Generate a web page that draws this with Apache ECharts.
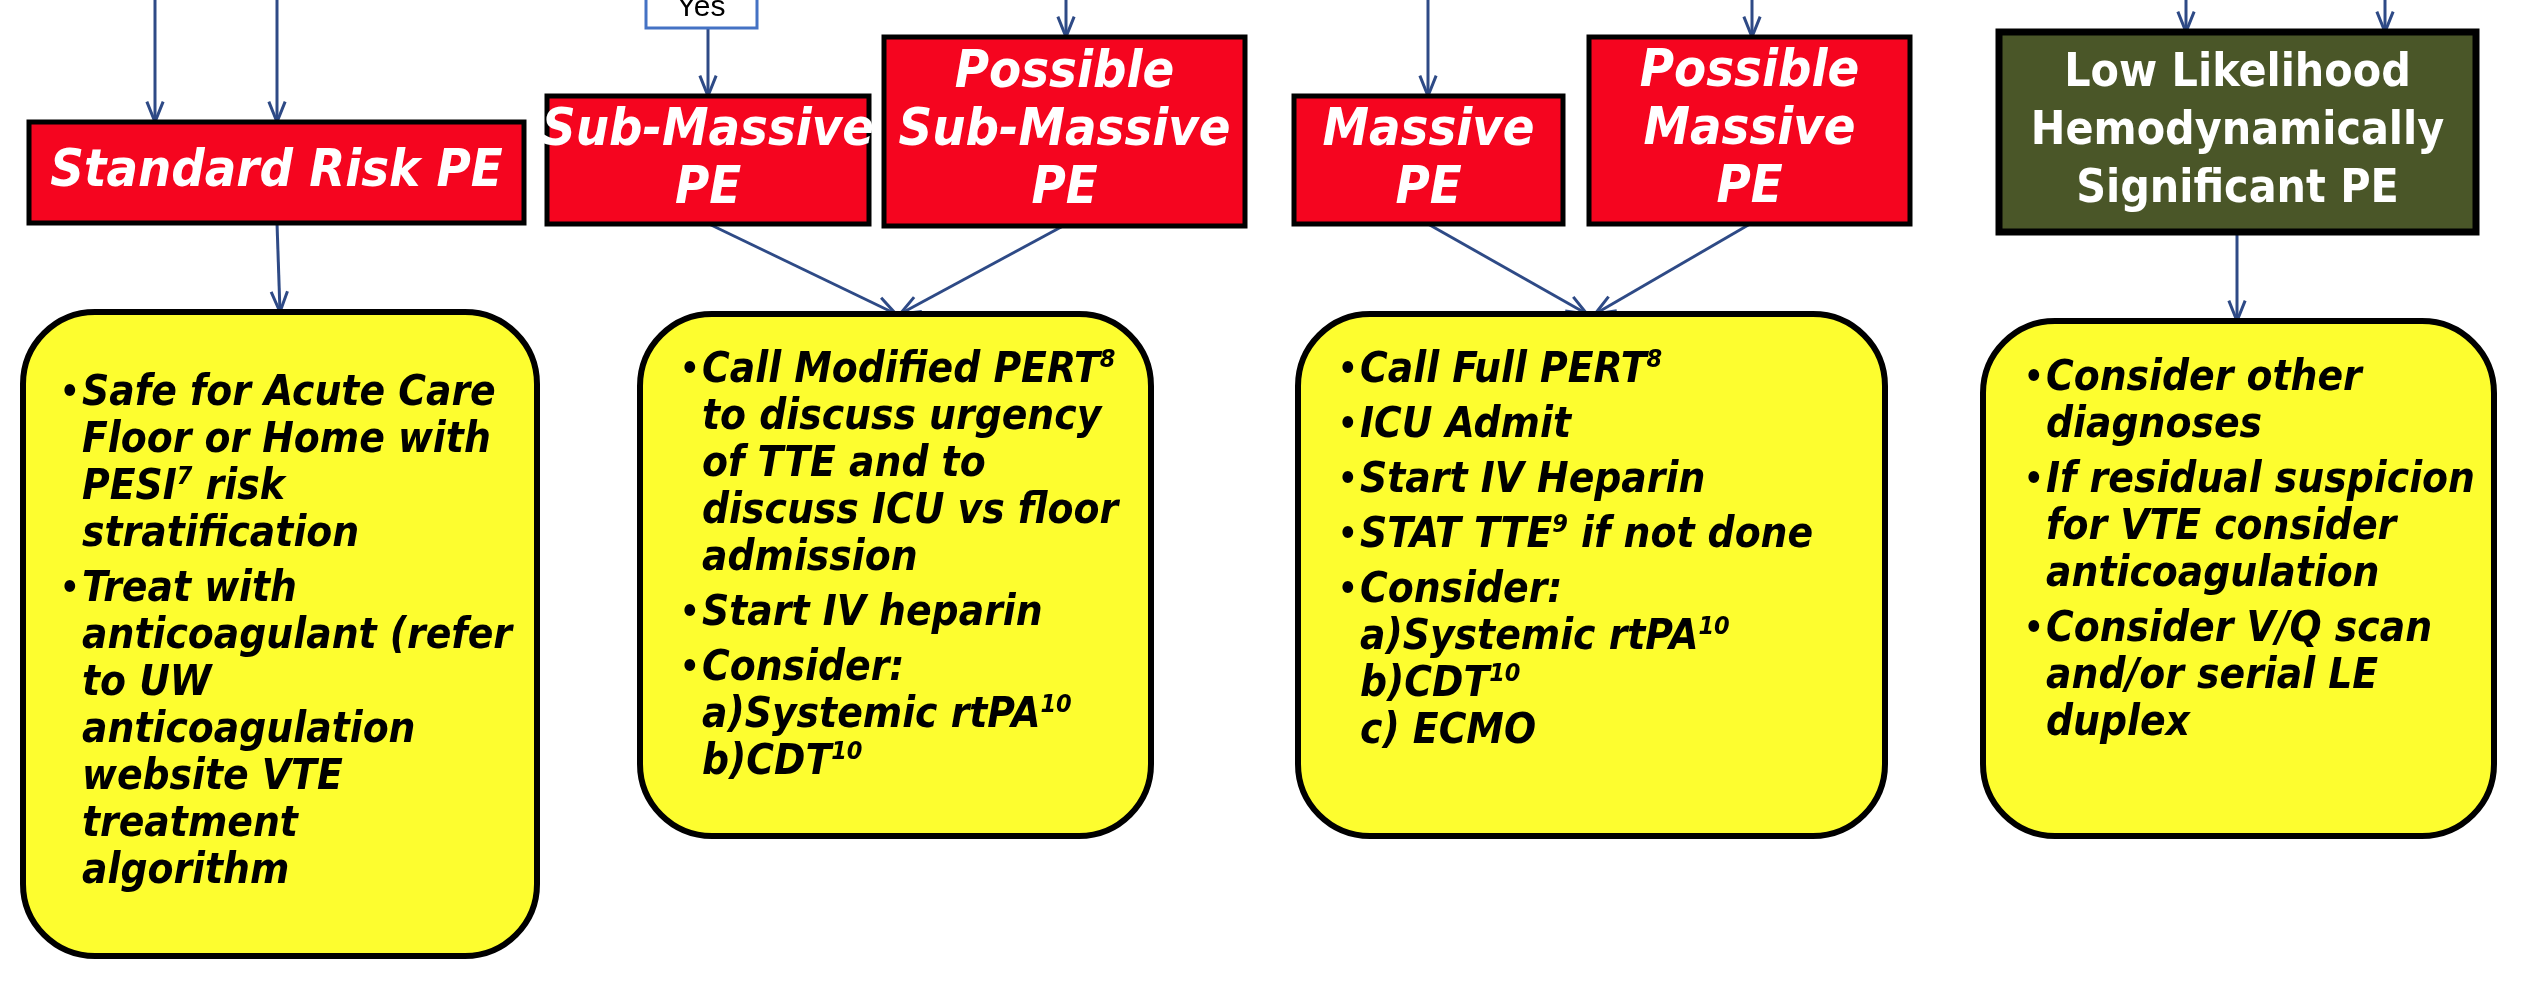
<!DOCTYPE html>
<html><head><meta charset="utf-8">
<script src="https://cdn.jsdelivr.net/npm/echarts@6/dist/echarts.min.js"></script>
<style>html,body{margin:0;background:#fff}#c{width:2540px;height:984px}</style>
</head><body><div id="c"></div>
<script>
// Flowchart fragment: PE risk categories -> management boxes.
const FONT = "'Liberation Sans Narrow','DejaVu Sans Condensed',sans-serif";

// header boxes: label lines, fill
const headers = [
  { lines: ["Standard Risk PE"], fill: "#f5051f", box: [29, 122, 524, 223] },
  { lines: ["Sub-Massive", "PE"], fill: "#f5051f", box: [547, 96, 869, 224] },
  { lines: ["Possible", "Sub-Massive", "PE"], fill: "#f5051f", box: [884, 37, 1245, 226] },
  { lines: ["Massive", "PE"], fill: "#f5051f", box: [1294, 96, 1563, 224] },
  { lines: ["Possible", "Massive", "PE"], fill: "#f5051f", box: [1589, 37, 1910, 224] },
  { lines: ["Low Likelihood", "Hemodynamically", "Significant PE"], fill: "#4a5628", box: [1999, 32, 2476, 232], upright: true },
];

// management boxes: bullets, each a list of lines ({sup} marks superscripts)
const boxes = [
  { box: [23, 312, 537, 956], x: 60, y0: 394, bullets: [
    ["Safe for Acute Care", "Floor or Home with", "PESI{7} risk", "stratification"],
    ["Treat with", "anticoagulant (refer", "to UW", "anticoagulation", "website VTE", "treatment", "algorithm"]] },
  { box: [640, 314, 1151, 836], x: 680, y0: 371, bullets: [
    ["Call Modified PERT{8}", "to discuss urgency", "of TTE and to", "discuss ICU vs floor", "admission"],
    ["Start IV heparin"],
    ["Consider:", "a)Systemic rtPA{10}", "b)CDT{10}"]] },
  { box: [1298, 314, 1885, 836], x: 1338, y0: 371, bullets: [
    ["Call Full PERT{8}"], ["ICU Admit"], ["Start IV Heparin"], ["STAT TTE{9} if not done"],
    ["Consider:", "a)Systemic rtPA{10}", "b)CDT{10}", "c) ECMO"]] },
  { box: [1983, 321, 2494, 836], x: 2024, y0: 379, bullets: [
    ["Consider other", "diagnoses"], ["If residual suspicion", "for VTE consider", "anticoagulation"],
    ["Consider V/Q scan", "and/or serial LE", "duplex"]] },
];

// connectors [x1,y1,x2,y2]
const arrows = [
  [155, 0, 155, 122], [277, 0, 277, 122], [708, 28, 708, 96], [1066, 0, 1066, 37],
  [1428, 0, 1428, 96], [1752, 0, 1752, 37], [2186, 0, 2186, 32], [2385, 0, 2385, 32],
  [277, 223, 280, 312], [709, 224, 896, 314], [1063, 226, 900, 314],
  [1428, 224, 1587, 314], [1750, 224, 1595, 314], [2237, 232, 2237, 321],
];

const LINE_H = 47, GAP = 8;
const g = [];
const NAVY = "#2e4a86";

arrows.forEach(([x1, y1, x2, y2]) => {
  const a = Math.atan2(y2 - y1, x2 - x1), L = 22, w = 0.38;
  g.push({ type: "line", shape: { x1, y1, x2, y2 }, style: { stroke: NAVY, lineWidth: 3 } });
  g.push({ type: "polyline", shape: { points: [
    [x2 - L * Math.cos(a - w), y2 - L * Math.sin(a - w)], [x2, y2],
    [x2 - L * Math.cos(a + w), y2 - L * Math.sin(a + w)]] },
    style: { stroke: NAVY, lineWidth: 3, fill: null } });
});

// "Yes" label box
g.push({ type: "rect", shape: { x: 646, y: -10, width: 111, height: 38 }, style: { fill: "#fff", stroke: "#4472c4", lineWidth: 3 } });
g.push({ type: "text", style: { x: 701, y: 8, text: "Yes", font: "30px 'Liberation Sans'", fill: "#000", align: "center", verticalAlign: "middle" } });

headers.forEach((h) => {
  const [x1, y1, x2, y2] = h.box;
  g.push({ type: "rect", shape: { x: x1, y: y1, width: x2 - x1, height: y2 - y1 },
    style: { fill: h.fill, stroke: "#000", lineWidth: h.upright ? 7 : 5 } });
  const n = h.lines.length, lh = 58, cy = (y1 + y2) / 2;
  h.lines.forEach((t, i) => {
    g.push({ type: "text", style: { x: (x1 + x2) / 2, y: cy + (i - (n - 1) / 2) * lh, text: t,
      font: (h.upright ? "bold 46px " : "italic bold 52px ") + FONT, fill: "#fff", align: "center", verticalAlign: "middle" } });
  });
});

boxes.forEach((b) => {
  const [x1, y1, x2, y2] = b.box;
  g.push({ type: "rect", shape: { x: x1, y: y1, width: x2 - x1, height: y2 - y1, r: 72 },
    style: { fill: "#fdfd2f", stroke: "#000", lineWidth: 6 } });
  let y = b.y0;
  b.bullets.forEach((lines) => {
    g.push({ type: "text", style: { x: b.x, y: y, text: "•", font: "bold 34px " + FONT, fill: "#000", verticalAlign: "middle" } });
    lines.forEach((t) => {
      const rich = t.replace(/\{(\d+)\}/g, "{s|$1}");
      g.push({ type: "text", style: { x: b.x + 22, y: y, text: rich, fill: "#000", verticalAlign: "middle",
        font: "italic bold 42px " + FONT,
        rich: { s: { font: "italic bold 25px " + FONT, fill: "#000", verticalAlign: "top", padding: [0, 0, 22, 0] } } } });
      y += LINE_H;
    });
    y += GAP;
  });
});

const chart = echarts.init(document.getElementById("c"));
chart.setOption({ animation: false, graphic: { elements: g } });
</script>
</body></html>
